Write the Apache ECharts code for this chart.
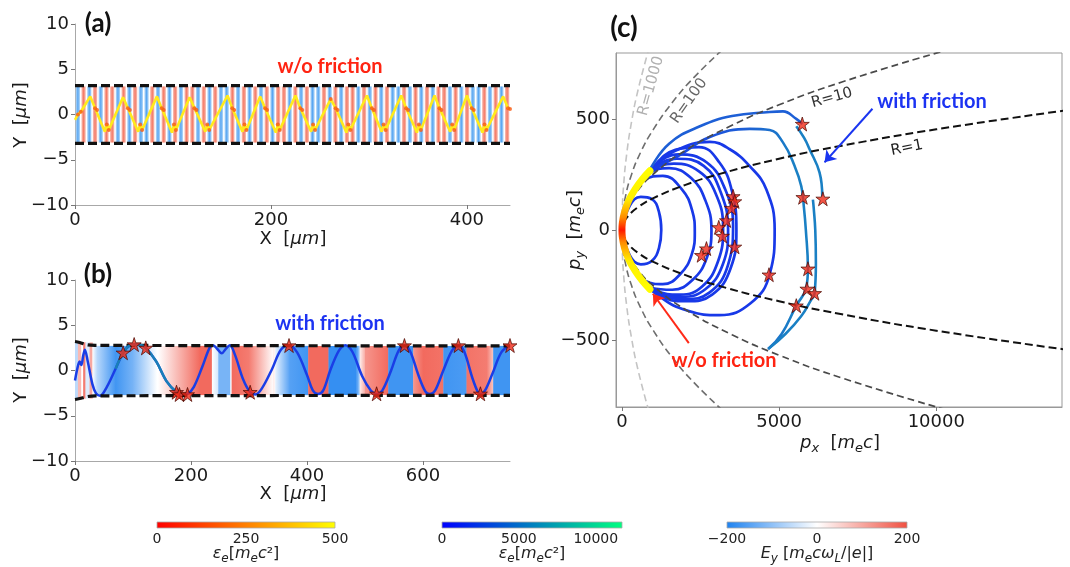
<!DOCTYPE html>
<html><head><meta charset="utf-8">
<script src="https://cdn.jsdelivr.net/npm/echarts@6/dist/echarts.min.js"></script>
<style>html,body{margin:0;padding:0;background:#fff}#c{width:1070px;height:567px}</style>
</head><body><div id="c"></div>
<script>
// ---------------- data ----------------
const ticksAX = [0, 200, 400];
const ticksBX = [0, 200, 400, 600];
const ticksY = [-10, -5, 0, 5, 10];
const ticksCX = [0, 5000, 10000];
const ticksCY = [-500, 0, 500];
const cb1Ticks = [0, 250, 500];
const cb2Ticks = [0, 5000, 10000];
const cb3Ticks = [-200, 0, 200];

// (a) trajectory without friction (X um, Y um)
const trajA = [[0,-0.6],[3,0.0],[6,0.3],[15.6,2.0],
 [20.5,0.7],[22.5,0.5],[30.5,-1.9],[32.5,-1.1],[34.5,-1.7],[49,1.9],
 [54,0.7],[56,0.5],[64.5,-1.9],[66.5,-1.1],[68.5,-1.7],[83.6,2.0],
 [88.5,0.7],[90.5,0.5],[99,-2.0],[101,-1.1],[103,-1.7],[117,1.9],
 [122,0.7],[124,0.5],[133,-1.9],[135,-1.1],[137,-1.7],[155.7,2.1],
 [160.5,0.7],[162.5,0.5],[171,-1.9],[173,-1.1],[175,-1.7],[189,2.0],
 [194,0.7],[196,0.5],[205,-2.0],[207,-1.1],[209,-1.7],[225,2.1],
 [230,0.7],[232,0.5],[241,-1.9],[243,-1.1],[245,-1.7],[261,1.7],
 [266,0.7],[268,0.5],[277,-2.0],[279,-1.1],[281,-1.7],[298,2.1],
 [303,0.7],[305,0.5],[313,-1.9],[315,-1.1],[317,-1.7],[333,2.1],
 [338,0.7],[340,0.5],[349,-2.0],[351,-1.1],[353,-1.7],[367,2.1],
 [372,0.7],[374,0.5],[383,-1.9],[385,-1.1],[387,-1.7],[400,2.1],
 [405,0.7],[407,0.5],[416,-2.0],[418,-1.1],[420,-1.7],[437,2.0],
 [442,0.7],[444,0.6]];
// (a) E_y stripes: b = negative field, r = positive field
const stripesA = 'brbrbrrbrbrbbrbrbrbrrbrbrbbrbrbrbrbrrbrbrbbrbrbrrbrbrbrbbrbrbrbrrbrbrbbrbrbr';
const boundA = [[0,3.2],[444,3.2]];

// (b) E_y bands [x0, x1, Ey at x0, Ey at x1]
const bandsB = [[0,5,-60,-60],[5,10,80,80],[14,18,150,150],[18,25,-30,-30],[25,30,100,100],
 [30,37,0,-60],[37,70,-60,-170],[70,100,-170,-120],[100,141,-120,0],
 [143,215,0,170],[215,236,170,170],[236,247,0,-40],[247,267,-120,-120],
 [270,300,170,150],[300,342,150,0],[342,345,30,0],[345,370,-20,-150],[370,402,-150,-170],
 [402,437,170,170],[437,485,-180,-180],[485,491,-180,-60],[491,500,20,100],[500,540,120,170],
 [540,583,-170,-170],[583,600,120,170],[600,635,170,160],[635,675,-170,-160],
 [675,710,160,150],[710,721,150,60],[721,750,-170,-170]];
const boundBTop = [[0,3.2],[8,3.1],[20,2.85],[35,2.78],[750,2.72]];
const boundBBot = [[0,-3.2],[8,-3.1],[20,-2.9],[35,-2.8],[750,-2.75]];
const trajB = [[0,-1.1],[4,0.2],[8,1.0],[11,0.6],[14,1.6],[17,2.3],[22,1.0],[30,-1.5],[36,-2.5],[43,-2.8],
 [55,-1.8],[70,0.2],[83,1.96],[95,2.8],[102,2.87],[112,2.85],[122,2.5],[140,1.0],[158,-1.2],[175,-2.4],
 [185,-2.7],[194,-2.6],[205,-1.8],[220,0.5],[232,2.5],[238,2.8],[245,2.4],[253,1.9],[260,2.4],[267,2.8],
 [276,1.7],[290,-1.0],[302,-2.4],[311,-2.65],[322,-2.0],[340,0.2],[355,2.3],[369,2.8],[383,2.0],[400,-0.5],
 [410,-2.2],[419,-2.6],[428,-2.2],[440,0],[455,2.2],[466,2.8],[478,2.1],[495,-0.6],[510,-2.2],[520,-2.6],
 [530,-2.2],[545,0],[558,2.2],[568,2.8],[578,2.1],[592,-0.5],[604,-2.3],[612,-2.6],[621,-2.2],[635,0],
 [650,2.2],[661,2.8],[671,2.1],[685,-0.8],[694,-2.3],[699,-2.6],[707,-2.2],[720,-0.3],[735,2.0],[750,2.8]];
const starsB = [[83,1.96],[102,2.87],[122,2.5],[175,-2.4],[180,-2.65],[194,-2.65],[302,-2.4],
 [369,2.76],[520,-2.57],[568,2.76],[661,2.76],[699,-2.57],[750,2.76]];

// (c) momentum space
const curveR1 = [[14200,-542],[10000,-455],[7000,-381],[5000,-322],[3000,-249],[2000,-203],[1000,-144],[500,-102],[200,-64],[50,-32],[0,0],
 [50,32],[200,64],[500,102],[1000,144],[2000,203],[3000,249],[5000,322],[7000,381],[10000,455],[14200,542]];
const curveR10 = [[10300,-812],[7000,-669],[5000,-566],[3500,-473],[2000,-358],[1000,-253],[500,-179],[200,-113],[50,-57],[0,0],
 [50,57],[200,113],[500,179],[1000,253],[2000,358],[3500,473],[5000,566],[7000,669],[10300,812]];
const curveR100 = [[3200,-815],[2300,-691],[1600,-576],[1000,-455],[600,-353],[300,-249],[100,-144],[20,-64],[0,0],
 [20,64],[100,144],[300,249],[600,353],[1000,455],[1600,576],[2300,691],[3200,815]];
const curveR1000 = [[860,-821],[500,-626],[300,-485],[150,-343],[50,-198],[10,-89],[0,0],
 [10,89],[50,198],[150,343],[300,485],[500,626],[860,821]];
const arcNoFriction = [[890,-268],[650,-230],[420,-185],[220,-135],[80,-80],[10,-30],[0,0],[10,30],[80,80],[220,135],[420,185],[650,230],[890,268]];
const loopA = [[0,0],[250,110],[600,150],[950,140],[1180,80],[1250,0],[1180,-80],[950,-140],[600,-155],[250,-115],[0,0]];
const loopB = [[0,0],[250,140],[700,225],[1300,245],[1900,185],[2230,90],[2317,-10],[2220,-110],[1850,-200],[1300,-245],[750,-230],[300,-155],[0,0]];
const loopC = [[0,0],[300,160],[850,255],[1500,280],[2200,235],[2650,135],[2847,0],[2700,-125],[2250,-225],[1600,-270],[950,-262],[350,-170],[0,0]];
const loopD = [[0,0],[300,160],[900,262],[1650,300],[2450,265],[2980,165],[3217,10],[3060,-140],[2550,-255],[1850,-292],[1050,-272],[350,-170],[0,0]];
const loopE = [[0,0],[300,160],[900,265],[1750,322],[2600,290],[3130,175],[3376,0],[3210,-155],[2650,-268],[1900,-302],[1050,-278],[350,-172],[0,0]];
const loopF = [[0,0],[300,160],[900,268],[1800,342],[2700,305],[3280,185],[3535,20],[3370,-160],[2780,-283],[2000,-312],[1100,-283],[350,-172],[0,0]];
const loopG = [[0,0],[300,160],[900,270],[1700,362],[2450,375],[3100,305],[3500,175],[3641,0],[3460,-172],[2870,-292],[2050,-322],[1100,-288],[350,-174],[0,0]];
const loopH = [[0,0],[300,160],[900,272],[1650,355],[2794,398],[3429,365],[4064,289],[4594,183],[4858,0],[4700,-200],[4100,-330],[3100,-385],[2100,-365],[1200,-300],[350,-175],[0,0]];
const arcTopC = [[900,275],[1500,390],[2500,470],[3500,515],[4699,533],[5121,536],[5546,502],[5737,479]];
const tealOuter = [[5546,469],[5800,415],[5969,365],[6287,259],[6372,152]];
const tealInner = [[900,272],[1736,330],[2794,420],[4064,457],[4699,452],[5121,396],[5493,289],[5705,198],[5790,100],[5850,0],[5916,-175],[5860,-262],[5546,-342],[5080,-470],[4650,-538]];
const tealRise = [[4650,-538],[5200,-470],[5700,-390],[6000,-320],[6128,-286],[6170,-150],[6150,0],[6100,100],[6075,137]];
const starsC = [[5737,479],[5757,148],[6392,141],[3535,152],[3588,129],[3482,99],[3323,43],[3080,12],[3196,-27],
 [3588,-76],[2688,-84],[2530,-114],[4678,-202],[5916,-175],[5884,-266],[6128,-286],[5546,-342]];

// ---------------- helpers ----------------
const FONT = 'DejaVu Sans';
const BLUE_E = [30,130,240], RED_E = [240,80,65];
function cE(v){
  const t = Math.max(-1, Math.min(1, v/200));
  const c = t < 0 ? BLUE_E : RED_E, a = Math.abs(t);
  const m = i => Math.round(255 + (c[i]-255)*a);
  return `rgb(${m(0)},${m(1)},${m(2)})`;
}
const minus = v => String(v).replace('-', '\u2212');
const STAR = 'path://M50,0 L61.8,35.5 L99,35.5 L69,57.5 L80.5,93 L50,71 L19.5,93 L31,57.5 L1,35.5 L38.2,35.5 Z';

function valAxis(gi, min, max, ticks, show){
  return {
    gridIndex: gi, type: 'value', min, max,
    axisLine: {show: show !== false, onZero: false, lineStyle: {color: '#a8a8a8', width: 1}},
    axisTick: {show: show !== false, customValues: ticks, length: 4, lineStyle: {color: '#777'}},
    axisLabel: {show: true, customValues: ticks, fontSize: 18, fontFamily: FONT, color: '#1a1a1a', margin: 6, formatter: minus},
    splitLine: {show: false}
  };
}
function cbXAxis(gi, min, max, ticks){
  return {gridIndex: gi, type: 'value', min, max,
    axisLine: {show: false}, axisTick: {show: false}, splitLine: {show: false},
    axisLabel: {customValues: ticks, fontSize: 14, fontFamily: FONT, color: '#222', margin: 4, formatter: minus}};
}
function cbYAxis(gi){ return {gridIndex: gi, type: 'value', min: 0, max: 1, show: false}; }

const cellW = 444 / stripesA.length;
function stripeItem(params, api){
  const i = api.value(0), v = api.value(1);
  const p0 = api.coord([i*cellW + 0.12*cellW, 3.1]);
  const p1 = api.coord([(i+1)*cellW - 0.12*cellW, -3.1]);
  const core = v < 0 ? '#58a6f2' : '#f47a66';
  const edge = v < 0 ? '#bcdcf8' : '#f9c4ba';
  return {type: 'rect', shape: {x: p0[0], y: p0[1], width: p1[0]-p0[0], height: p1[1]-p0[1]},
    style: {fill: new echarts.graphic.LinearGradient(0,0,1,0,[{offset:0,color:edge},{offset:0.5,color:core},{offset:1,color:edge}])}};
}
function bandItem(params, api){
  const x0 = api.value(0), x1 = api.value(1), v0 = api.value(2), v1 = api.value(3);
  const h = x0 < 30 ? 3.1 : 2.72;
  const p0 = api.coord([x0, h]), p1 = api.coord([x1, -h]);
  return {type: 'rect', shape: {x: p0[0], y: p0[1], width: p1[0]-p0[0]+0.4, height: p1[1]-p0[1]},
    style: {fill: new echarts.graphic.LinearGradient(0,0,1,0,[{offset:0,color:cE(v0)},{offset:1,color:cE(v1)}])}};
}
function cbItemFactory(stops){
  return function(params, api){
    const p0 = api.coord([api.value(0), 1]), p1 = api.coord([api.value(1), 0]);
    return {type: 'rect', shape: {x: p0[0], y: p0[1], width: p1[0]-p0[0], height: p1[1]-p0[1]},
      style: {fill: new echarts.graphic.LinearGradient(0,0,1,0,stops), stroke: '#aaa', lineWidth: 0.8}};
  };
}
function lineS(xi, data, color, width, extra){
  return Object.assign({type: 'line', xAxisIndex: xi, yAxisIndex: xi, data, symbol: 'none',
    lineStyle: {color, width}, silent: true, z: 3}, extra || {});
}
const dashed = (xi, data, color, width, dash, smooth) => lineS(xi, data, color, width,
  {lineStyle: {color, width, type: dash}, smooth: smooth || false, z: 4});

const DARK = '#1839e8', MID = '#1d5fd6', TEAL = '#1a80c4';
const loops = [loopA, loopB, loopC, loopD, loopE, loopF, loopG, loopH];

// ---------------- text helpers ----------------
const base = {fontSize: 18, fontFamily: FONT, fill: '#1a1a1a'};
const richAx = {
  n: Object.assign({}, base, {lineHeight: 24}),
  i: Object.assign({}, base, {fontStyle: 'italic', lineHeight: 24}),
  s: {fontSize: 13, fontFamily: FONT, fontStyle: 'italic', fill: '#1a1a1a', verticalAlign: 'bottom', lineHeight: 14}
};
const richCb = {
  n: {fontSize: 16, fontFamily: FONT, fill: '#222', lineHeight: 22},
  i: {fontSize: 16, fontFamily: FONT, fontStyle: 'italic', fill: '#222', lineHeight: 22},
  s: {fontSize: 12, fontFamily: FONT, fontStyle: 'italic', fill: '#222', verticalAlign: 'bottom', lineHeight: 13}
};
function txt(x, y, text, rich, rot){
  return {type: 'text', x, y, rotation: rot || 0, silent: true, z: 50,
    style: {text, rich, textAlign: 'center', textVerticalAlign: 'middle', align: 'center', verticalAlign: 'middle'}};
}
function plain(x, y, text, font, fill, rot){
  return {type: 'text', x, y, rotation: rot || 0, silent: true, z: 50,
    style: {text, font, fill, textAlign: 'center', textVerticalAlign: 'middle', align: 'center', verticalAlign: 'middle'}};
}
const BOLD = f => `bold ${f}px Lato`;
const starStyle = {color: '#f02a18', borderColor: '#4a0800', borderWidth: 0.9};

// ---------------- chart ----------------
const chart = echarts.init(document.getElementById('c'), null, {renderer: 'canvas'});
const series = [
  // (a)
  {type: 'custom', xAxisIndex: 0, yAxisIndex: 0, renderItem: stripeItem, clip: true, silent: true, z: 1,
    data: stripesA.split('').map((c, i) => [i, c === 'b' ? -1 : 1])},
  dashed(0, boundA, '#111', 3.2, [9, 4]),
  dashed(0, boundA.map(p => [p[0], -p[1]]), '#111', 3.2, [9, 4]),
  lineS(0, trajA, '#ffea1c', 2.6),
  {type: 'scatter', xAxisIndex: 0, yAxisIndex: 0, data: trajA.filter(p => Math.abs(p[1]) <= 1.8 && p[0] > 2),
    symbolSize: 4, itemStyle: {color: '#f75a14'}, silent: true, z: 5},
  // (b)
  {type: 'custom', xAxisIndex: 1, yAxisIndex: 1, renderItem: bandItem, clip: true, silent: true, z: 1, data: bandsB},
  dashed(1, boundBTop, '#111', 3.2, [9, 4], 0.4),
  dashed(1, boundBBot, '#111', 3.2, [9, 4], 0.4),
  lineS(1, trajB, '#1a3ee6', 2.5, {smooth: 0.35}),
  lineS(1, trajB.filter(p => p[0] >= 70 && p[0] <= 185), '#1a7fb8', 2.5, {smooth: 0.35, z: 4}),
  {type: 'scatter', xAxisIndex: 1, yAxisIndex: 1, data: starsB, symbol: STAR, symbolSize: 14,
    itemStyle: starStyle, silent: true, z: 6},
  // (c)
  dashed(2, curveR1000, '#c4c4c4', 1.6, [7, 4], true),
  dashed(2, curveR100, '#6e6e6e', 1.6, [7, 4], true),
  dashed(2, curveR10, '#4a4a4a', 1.7, [7, 4], true),
  dashed(2, curveR1, '#111', 2, [8, 4], true),
  ...loops.map(L => lineS(2, L, DARK, 2.7, {smooth: 0.45})),
  lineS(2, arcTopC, MID, 2.6, {smooth: 0.45}),
  lineS(2, tealInner, DARK, 2.6, {smooth: 0.45, lineStyle: {width: 2.6,
    color: new echarts.graphic.LinearGradient(0,0,1,0,[{offset:0,color:DARK},{offset:0.6,color:MID},{offset:0.9,color:TEAL},{offset:1,color:TEAL}])}}),
  lineS(2, tealOuter, TEAL, 2.6, {smooth: 0.45}),
  lineS(2, tealRise, TEAL, 2.6, {smooth: 0.45}),
  lineS(2, arcNoFriction, '#ff0', 7, {smooth: 0.4, z: 7, lineStyle: {width: 7, cap: 'round',
    color: new echarts.graphic.LinearGradient(0,0,0,1,[{offset:0,color:'#ffff00'},{offset:0.25,color:'#fff000'},
      {offset:0.4,color:'#ff8c00'},{offset:0.5,color:'#ff1800'},{offset:0.6,color:'#ff8c00'},{offset:0.75,color:'#fff000'},{offset:1,color:'#ffff00'}])}}),
  {type: 'scatter', xAxisIndex: 2, yAxisIndex: 2, data: starsC, symbol: STAR, symbolSize: 14,
    itemStyle: starStyle, silent: true, z: 8,
    markLine: {silent: true, symbol: ['none', 'arrow'], symbolSize: 11, label: {show: false}, animation: false,
      data: [
        [{coord: [7969, 548], lineStyle: {color: '#1a35f0', width: 2, type: 'solid'}}, {coord: [6445, 306]}],
        [{coord: [2127, -511], lineStyle: {color: '#ff2a18', width: 2, type: 'solid'}}, {coord: [984, -288]}]
      ]}},
  // colorbars
  {type: 'custom', xAxisIndex: 3, yAxisIndex: 3, data: [[0, 500]], silent: true,
    renderItem: cbItemFactory([{offset:0,color:'#ff0000'},{offset:1,color:'#ffff00'}])},
  {type: 'custom', xAxisIndex: 4, yAxisIndex: 4, data: [[0, 11700]], silent: true,
    renderItem: cbItemFactory([{offset:0,color:'#0000ff'},{offset:1,color:'#00ff80'}])},
  {type: 'custom', xAxisIndex: 5, yAxisIndex: 5, data: [[-200, 200]], silent: true,
    renderItem: cbItemFactory([{offset:0,color:cE(-200)},{offset:0.5,color:'#ffffff'},{offset:1,color:cE(200)}])}
];

const option = {
  animation: false,
  backgroundColor: '#ffffff',
  grid: [
    {left: 75, top: 24, width: 435, height: 181},
    {left: 75, top: 280, width: 435, height: 181},
    {left: 616, top: 53, width: 446, height: 354, show: true, borderColor: '#999', borderWidth: 1, backgroundColor: 'transparent'},
    {left: 157, top: 522, width: 178, height: 6},
    {left: 442, top: 522, width: 180, height: 6},
    {left: 727, top: 522, width: 180, height: 6}
  ],
  xAxis: [
    valAxis(0, 0, 444, ticksAX),
    valAxis(1, 0, 750, ticksBX),
    Object.assign(valAxis(2, -190, 14000, ticksCX), {axisLine: {show: true, onZero: false, lineStyle: {color: '#999'}}}),
    cbXAxis(3, 0, 500, cb1Ticks),
    cbXAxis(4, 0, 11700, cb2Ticks),
    cbXAxis(5, -200, 200, cb3Ticks)
  ],
  yAxis: [
    valAxis(0, -10, 10, ticksY),
    valAxis(1, -10, 10, ticksY),
    Object.assign(valAxis(2, -800, 800, ticksCY), {axisLine: {show: true, onZero: false, lineStyle: {color: '#999'}}}),
    cbYAxis(3), cbYAxis(4), cbYAxis(5)
  ],
  series,
  graphic: [
    plain(98, 24, '(a)', BOLD(26), '#111'),
    plain(98, 275, '(b)', BOLD(26), '#111'),
    plain(624, 28, '(c)', BOLD(28), '#111'),
    plain(330, 67, 'w/o friction', BOLD(20), '#ff2412'),
    plain(330, 324, 'with friction', BOLD(20), '#1c33f2'),
    plain(932, 102, 'with friction', BOLD(20), '#1c33f2'),
    plain(724, 361, 'w/o friction', BOLD(20), '#ff2412'),
    plain(907, 148, 'R=1', '15px "DejaVu Sans"', '#222', 0.2),
    plain(832, 98, 'R=10', '15px "DejaVu Sans"', '#333', 0.27),
    plain(689, 101, 'R=100', '15px "DejaVu Sans"', '#666', 0.95),
    plain(651, 86, 'R=1000', '15px "DejaVu Sans"', '#b0b0b0', 1.3),
    txt(21, 115, '{n|Y  [}{i|μm}{n|]}', richAx, Math.PI/2),
    txt(293, 239, '{n|X  [}{i|μm}{n|]}', richAx),
    txt(21, 370, '{n|Y  [}{i|μm}{n|]}', richAx, Math.PI/2),
    txt(293, 494, '{n|X  [}{i|μm}{n|]}', richAx),
    txt(575, 230, '{i|p}{s|y}{n|  [}{i|m}{s|e}{i|c}{n|]}', richAx, Math.PI/2),
    txt(840, 443, '{i|p}{s|x}{n|  [}{i|m}{s|e}{i|c}{n|]}', richAx),
    txt(246, 554, '{i|ε}{s|e}{n|[}{i|m}{s|e}{i|c}{n|²]}', richCb),
    txt(532, 554, '{i|ε}{s|e}{n|[}{i|m}{s|e}{i|c}{n|²]}', richCb),
    txt(817, 554, '{i|E}{s|y}{n| [}{i|m}{s|e}{i|cω}{s|L}{n|/|}{i|e}{n||]}', richCb)
  ]
};
chart.setOption(option);
</script></body></html>
